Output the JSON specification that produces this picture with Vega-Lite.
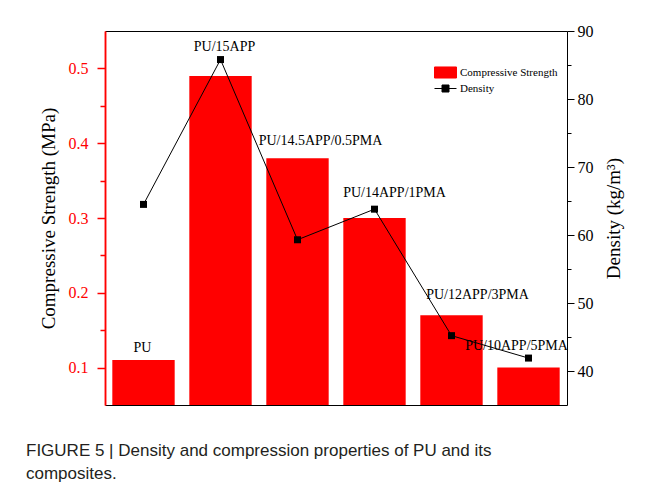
{
  "$schema": "https://vega.github.io/schema/vega-lite/v6.json",
  "autosize": "none",
  "padding": {"left": 105, "top": 31, "right": 85, "bottom": 87},
  "width": 462,
  "height": 374,
  "background": "white",
  "data": {"values": [
    {"sample": "PU", "strength": 0.11, "density": 64.5},
    {"sample": "PU/15APP", "strength": 0.49, "density": 85.8},
    {"sample": "PU/14.5APP/0.5PMA", "strength": 0.38, "density": 59.3},
    {"sample": "PU/14APP/1PMA", "strength": 0.30, "density": 63.8},
    {"sample": "PU/12APP/3PMA", "strength": 0.17, "density": 45.2},
    {"sample": "PU/10APP/5PMA", "strength": 0.10, "density": 41.9}
  ]},
  "title": {
    "text": ["FIGURE 5 | Density and compression properties of PU and its", "composites."],
    "orient": "bottom", "anchor": "start", "frame": "group",
    "font": "Liberation Sans", "fontSize": 17, "fontWeight": "normal", "color": "#231f20",
    "lineHeight": 23, "baseline": "alphabetic", "offset": 51, "dx": -79
  },
  "layer": [
    {
      "mark": {"type": "bar"},
      "encoding": {
        "x": {"field": "sample", "type": "nominal", "sort": null,
              "scale": {"paddingInner": 0.19, "paddingOuter": 0.095},
              "axis": {"orient": "bottom", "domain": true, "domainColor": "black", "ticks": false, "labels": false, "title": null, "grid": false}},
        "y": {"field": "strength", "type": "quantitative",
              "scale": {"domain": [0.05, 0.55], "zero": false, "nice": false},
              "axis": {"orient": "left", "values": [0.1, 0.2, 0.3, 0.4, 0.5], "format": ".1f",
                       "domain": true, "domainColor": "#ff0000", "domainWidth": 1.5, "tickColor": "#ff0000", "tickWidth": 1.5, "labelColor": "#ff0000",
                       "tickSize": 8, "labelPadding": 9, "labelFontSize": 16, "grid": false, "zindex": 2,
                       "title": "Compressive Strength (MPa)", "titleFontSize": 19, "titleFontWeight": "normal",
                       "titleColor": "black", "titlePadding": 10}},
        "y2": {"datum": 0.05},
        "color": {"datum": "Compressive Strength", "type": "nominal",
                  "scale": {"domain": ["Compressive Strength", "Density"], "range": ["#ff0000", "black"]},
                  "legend": {"title": null, "orient": "none", "legendX": 333, "legendY": 34,
                             "labelFont": "Liberation Serif", "labelFontSize": 11, "labelColor": "black",
                             "symbolSize": 196, "rowPadding": 0, "labelOffset": 7, "padding": 0,
                             "symbolStrokeWidth": 1,
                             "encode": {"symbols": {"update": {
                               "shape": {"signal": "datum.value === 'Density' ? 'M-1.57,0H-0.5M0.5,0H1.57M-0.5,-0.5H0.5V0.5H-0.5Z' : 'M-1.57,-0.79H1.57V0.79H-1.57Z'"},
                               "fill": {"signal": "datum.value === 'Density' ? 'black' : '#ff0000'"},
                               "stroke": {"signal": "datum.value === 'Density' ? 'black' : '#ff0000'"},
                               "strokeWidth": {"value": 1},
                               "opacity": {"value": 1}
                             }}}}}
      }
    },
    {
      "transform": [{"filter": "datum.sample === 'PU'"}],
      "mark": {"type": "text", "font": "Liberation Serif", "fontSize": 14, "color": "black", "baseline": "middle", "dx": -1, "dy": -12},
      "encoding": {
        "x": {"field": "sample", "type": "nominal", "sort": null,
              "axis": {"orient": "top", "domain": true, "domainColor": "black", "ticks": false, "labels": false, "title": null, "grid": false}},
        "y": {"field": "strength", "type": "quantitative",
              "scale": {"domain": [0.05, 0.55], "zero": false, "nice": false},
              "axis": {"orient": "left", "values": [0.15, 0.25, 0.35, 0.45], "labels": false, "domain": true,
                       "domainColor": "#ff0000", "domainWidth": 1.5, "zindex": 3,
                       "grid": false, "tickSize": 5, "tickColor": "#ff0000", "tickWidth": 1.5, "title": null}},
        "text": {"field": "sample"}
      }
    },
    {
      "transform": [{"filter": "datum.sample === 'PU/15APP'"}],
      "mark": {"type": "text", "font": "Liberation Serif", "fontSize": 14, "color": "black", "baseline": "middle", "dx": 4, "dy": -29},
      "encoding": {
        "x": {"field": "sample", "type": "nominal", "sort": null, "axis": null},
        "y": {"field": "strength", "type": "quantitative", "scale": {"domain": [0.05, 0.55], "zero": false, "nice": false}, "axis": null},
        "text": {"field": "sample"}
      }
    },
    {
      "transform": [{"filter": "datum.sample === 'PU/14.5APP/0.5PMA'"}],
      "mark": {"type": "text", "font": "Liberation Serif", "fontSize": 14, "color": "black", "baseline": "middle", "dx": 23, "dy": -17},
      "encoding": {
        "x": {"field": "sample", "type": "nominal", "sort": null, "axis": null},
        "y": {"field": "strength", "type": "quantitative", "scale": {"domain": [0.05, 0.55], "zero": false, "nice": false}, "axis": null},
        "text": {"field": "sample"}
      }
    },
    {
      "transform": [{"filter": "datum.sample === 'PU/14APP/1PMA'"}],
      "mark": {"type": "text", "font": "Liberation Serif", "fontSize": 14, "color": "black", "baseline": "middle", "dx": 20, "dy": -25},
      "encoding": {
        "x": {"field": "sample", "type": "nominal", "sort": null, "axis": null},
        "y": {"field": "strength", "type": "quantitative", "scale": {"domain": [0.05, 0.55], "zero": false, "nice": false}, "axis": null},
        "text": {"field": "sample"}
      }
    },
    {
      "transform": [{"filter": "datum.sample === 'PU/12APP/3PMA'"}],
      "mark": {"type": "text", "font": "Liberation Serif", "fontSize": 14, "color": "black", "baseline": "middle", "dx": 26, "dy": -20},
      "encoding": {
        "x": {"field": "sample", "type": "nominal", "sort": null, "axis": null},
        "y": {"field": "strength", "type": "quantitative", "scale": {"domain": [0.05, 0.55], "zero": false, "nice": false}, "axis": null},
        "text": {"field": "sample"}
      }
    },
    {
      "transform": [{"filter": "datum.sample === 'PU/10APP/5PMA'"}],
      "mark": {"type": "text", "font": "Liberation Serif", "fontSize": 14, "color": "black", "baseline": "middle", "dx": -12, "dy": -22},
      "encoding": {
        "x": {"field": "sample", "type": "nominal", "sort": null, "axis": null},
        "y": {"field": "strength", "type": "quantitative", "scale": {"domain": [0.05, 0.55], "zero": false, "nice": false}, "axis": null},
        "text": {"field": "sample"}
      }
    },
    {
      "mark": {"type": "line", "strokeWidth": 1},
      "encoding": {
        "x": {"field": "sample", "type": "nominal", "sort": null, "axis": null},
        "y": {"field": "density", "type": "quantitative",
              "scale": {"domain": [35, 90], "zero": false, "nice": false},
              "axis": {"orient": "right", "values": [40, 50, 60, 70, 80, 90], "tickSize": 7, "labelPadding": 3,
                       "labelFontSize": 16, "domainColor": "black", "tickColor": "black", "labelColor": "black",
                       "grid": false, "title": "Density (kg/m³)", "titleFontSize": 19, "titleFontWeight": "normal",
                       "titleColor": "black", "titleAngle": 270, "titleBaseline": "top", "titlePadding": 11}},
        "color": {"datum": "Density", "type": "nominal"}
      }
    },
    {
      "mark": {"type": "point", "shape": "square", "filled": true, "size": 49, "color": "black", "opacity": 1},
      "encoding": {
        "x": {"field": "sample", "type": "nominal", "sort": null, "axis": null},
        "y": {"field": "density", "type": "quantitative",
              "scale": {"domain": [35, 90], "zero": false, "nice": false},
              "axis": {"orient": "right", "values": [45, 55, 65, 75, 85], "labels": false, "domain": false,
                       "grid": false, "tickSize": 4, "tickColor": "black", "title": null}}
      }
    }
  ],
  "resolve": {"scale": {"y": "independent"}, "axis": {"x": "independent"}},
  "config": {
    "view": {"stroke": null},
    "font": "Liberation Serif",
    "axis": {"labelFont": "Liberation Serif", "titleFont": "Liberation Serif"}
  }
}
